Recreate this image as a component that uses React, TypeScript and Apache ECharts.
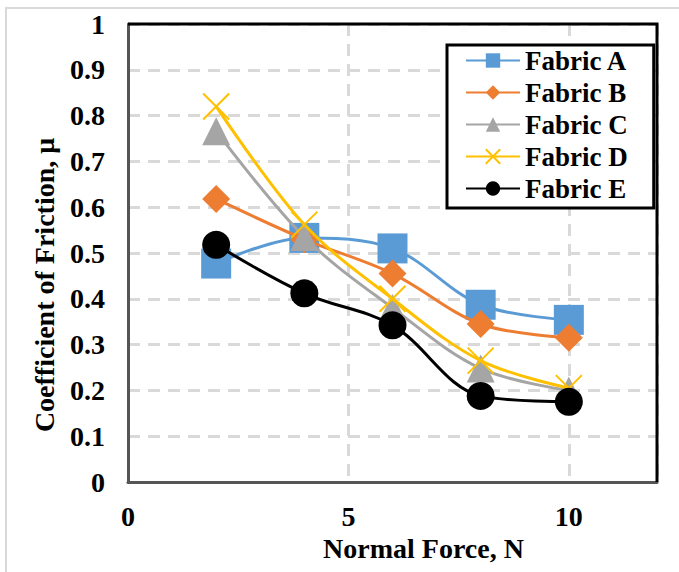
import React, { useEffect, useRef } from "react";
import * as echarts from "echarts";

const forces = [2, 4, 6, 8, 10];
const fabricA = [0.477, 0.533, 0.51, 0.387, 0.354];
const fabricB = [0.618, 0.53, 0.455, 0.345, 0.315];
const fabricC = [0.766, 0.535, 0.38, 0.248, 0.2];
const fabricD = [0.82, 0.562, 0.4, 0.265, 0.205];
const fabricE = [0.518, 0.412, 0.342, 0.188, 0.175];

const seriesNames = ["Fabric A", "Fabric B", "Fabric C", "Fabric D", "Fabric E"];
const seriesColors = ["#5B9BD5", "#ED7D31", "#A5A5A5", "#FFC000", "#000000"];

const FONT = "Times New Roman, Liberation Serif, serif";

export default function App() {
  const ref = useRef<HTMLDivElement>(null);
  useEffect(() => {
    if (!ref.current) return;
    const chart = echarts.init(ref.current, undefined, { renderer: "svg" });
    const datasets = [fabricA, fabricB, fabricC, fabricD, fabricE];
    const symbols = ["rect", "diamond", "triangle", "path://M0,0L10,10M10,0L0,10", "circle"];
    const sizes = [30, 28, 28, 26, 28];
    const series = datasets.map((d, i) => ({
      name: seriesNames[i],
      type: "line",
      smooth: 0.35,
      data: d.map((v, j) => [forces[j], v]),
      symbol: symbols[i],
      symbolSize: sizes[i],
      showSymbol: true,
      lineStyle: { color: seriesColors[i], width: 3 },
      itemStyle:
        i === 3
          ? { color: seriesColors[i], borderColor: seriesColors[i], borderWidth: 2 }
          : { color: seriesColors[i], borderWidth: 0 },
      z: 2 + i,
    }));
    chart.setOption({
      animation: false,
      backgroundColor: "#fff",
      textStyle: { fontFamily: FONT },
      grid: {
        left: 128,
        top: 24,
        right: 22,
        bottom: 90,
      },
      legend: {
        orient: "vertical",
        left: 447,
        top: 45,
        data: seriesNames,
        borderColor: "#000",
        borderWidth: 3,
        padding: [2, 26, 6, 18],
        itemWidth: 54,
        itemHeight: 18,
        itemGap: 5,
        backgroundColor: "#fff",
        textStyle: {
          fontFamily: FONT,
          fontWeight: "bold",
          fontSize: 27,
          color: "#000",
        },
      },
      xAxis: {
        type: "value",
        min: 0,
        max: 12,
        interval: 5,
        name: "Normal Force, N",
        nameLocation: "middle",
        nameGap: 52,
        nameTextStyle: {
          fontFamily: FONT,
          fontWeight: "bold",
          fontSize: 28,
          color: "#000",
          padding: [0, 0, 0, 62],
        },
        axisLine: { show: true, lineStyle: { color: "#555", width: 3 } },
        axisTick: { show: false },
        axisLabel: {
          fontFamily: FONT,
          fontWeight: "bold",
          fontSize: 28,
          color: "#000",
          margin: 20,
          showMaxLabel: false,
        },
        splitLine: {
          show: true,
          lineStyle: { color: "#D9D9D9", width: 3, type: [12, 8] },
        },
      },
      yAxis: {
        type: "value",
        min: 0,
        max: 1,
        interval: 0.1,
        name: "Coefficient of Friction, μ",
        nameLocation: "middle",
        nameGap: 70,
        nameTextStyle: {
          fontFamily: FONT,
          fontWeight: "bold",
          fontSize: 28,
          color: "#000",
          padding: [0, 64, 0, 0],
        },
        axisLine: { show: true, lineStyle: { color: "#555", width: 3 } },
        axisTick: { show: false },
        axisLabel: {
          fontFamily: FONT,
          fontWeight: "bold",
          fontSize: 28,
          color: "#000",
          margin: 23,
          formatter: (v: number) => String(Math.round(v * 10) / 10),
        },
        splitLine: {
          show: true,
          lineStyle: { color: "#D9D9D9", width: 3, type: [12, 8] },
        },
      },
      series,
    });
    const tl = chart.convertToPixel({ gridIndex: 0 }, [0, 1]) as number[];
    const br = chart.convertToPixel({ gridIndex: 0 }, [12, 0]) as number[];
    chart.setOption({
      graphic: [
        {
          type: "rect",
          shape: { x: 6, y: 8, width: 700, height: 600 },
          style: { fill: "none", stroke: "#D9D9D9", lineWidth: 2 },
          silent: true,
          z: 0,
        },
        {
          type: "polyline",
          shape: { points: [[tl[0], tl[1]], [br[0], tl[1]], [br[0], br[1]]] },
          style: { fill: "none", stroke: "#000", lineWidth: 3 },
          silent: true,
          z: 1,
        },
      ],
    });
    return () => chart.dispose();
  }, []);
  return (
    <div
      ref={ref}
      style={{ position: "fixed", left: 0, top: 0, width: 679, height: 572 }}
    />
  );
}
